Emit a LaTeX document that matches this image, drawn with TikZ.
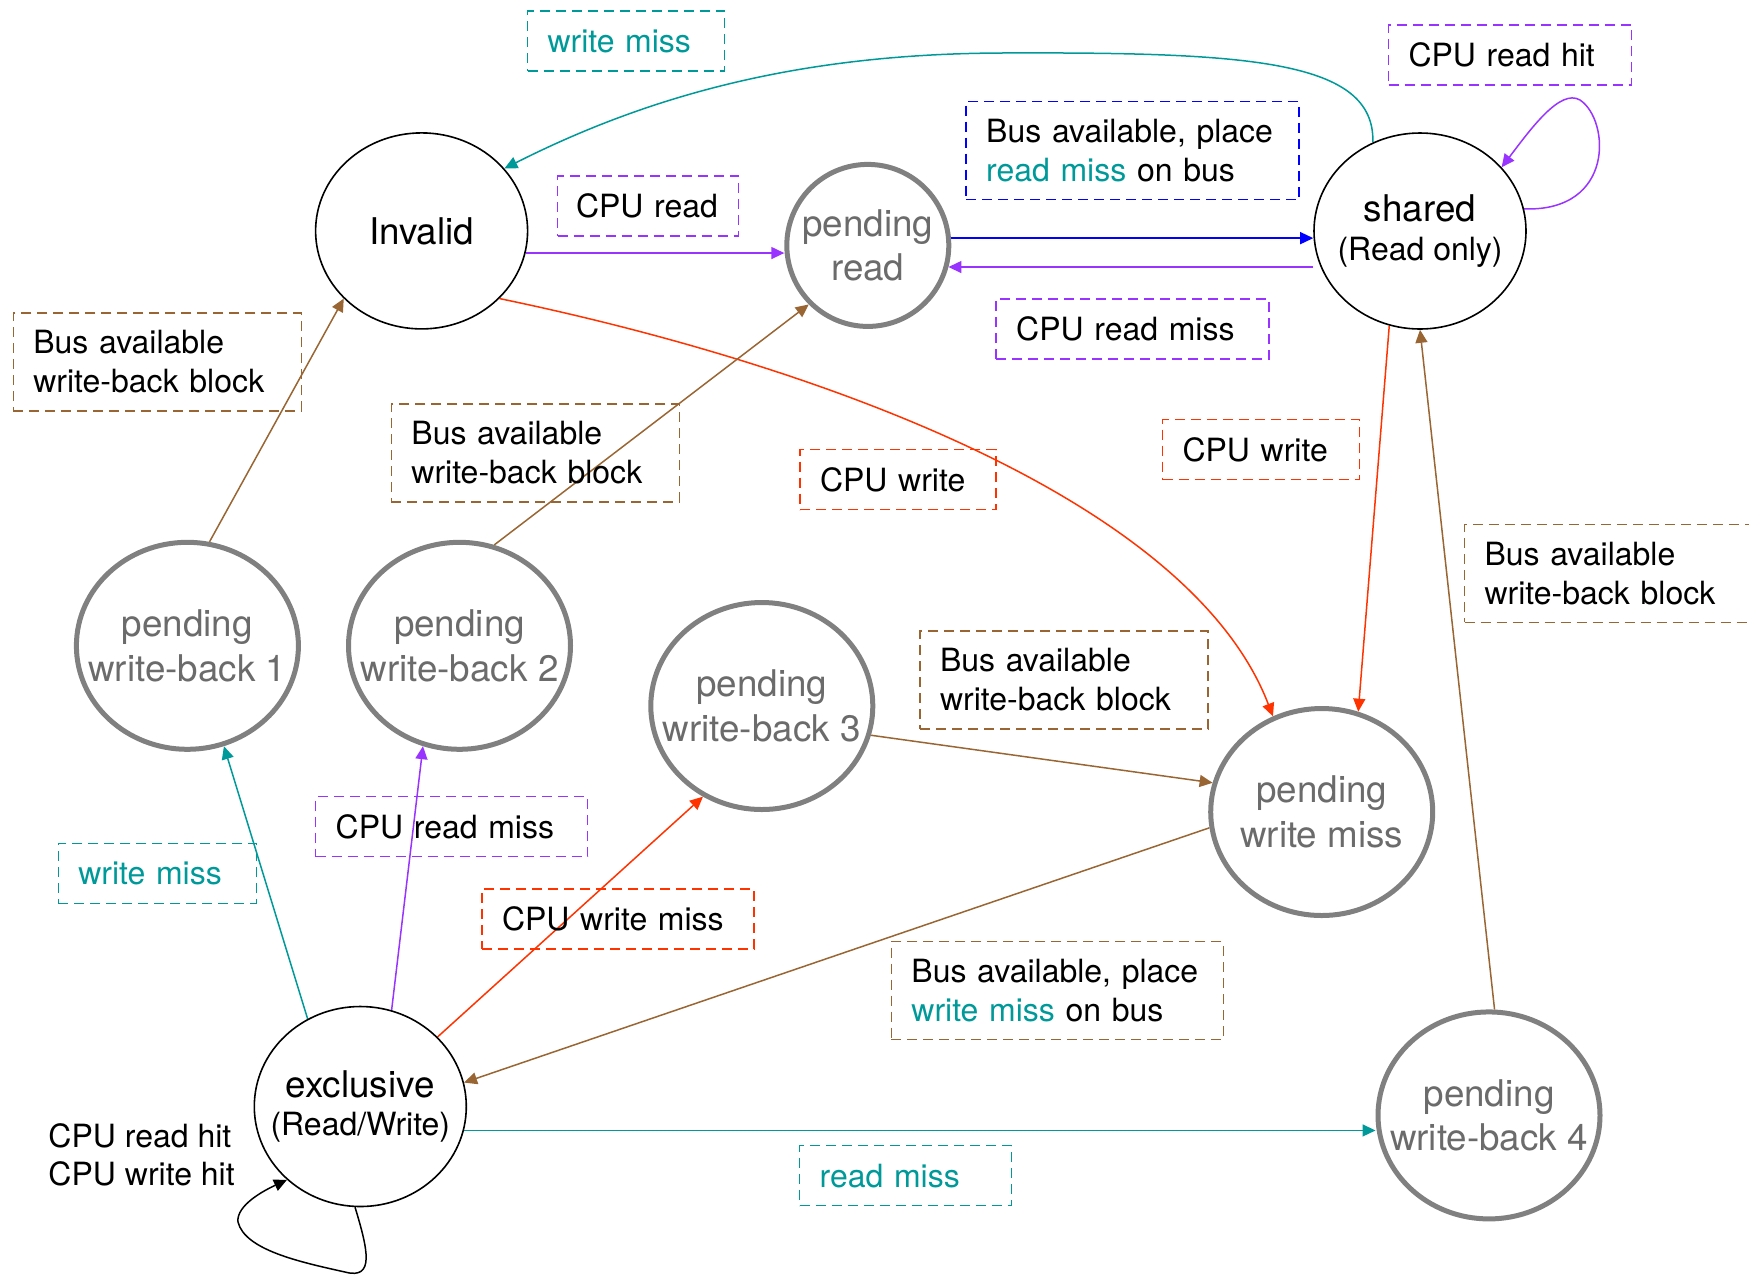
\documentclass[tikz,border=0pt]{standalone}
\usepackage{fontspec}
\setmainfont{TeX Gyre Heros}
\usetikzlibrary{arrows.meta,shapes.geometric,backgrounds}
\definecolor{busteal}{HTML}{009999}
\definecolor{cpuviol}{HTML}{9933FF}
\definecolor{busblue}{HTML}{0000FF}
\definecolor{cpured}{HTML}{FF3300}
\definecolor{wbbrown}{HTML}{996633}
\definecolor{pendgray}{HTML}{808080}
\definecolor{pendtext}{HTML}{6B6B6B}
\tikzset{
  st/.style   ={ellipse, draw=black, line width=.8pt, fill=white, inner sep=-12pt, align=center,
                minimum width=106pt, minimum height=98pt, font=\fontsize{18.4}{22.3}\selectfont},
  stp/.style  ={st, draw=pendgray, line width=2.5pt, text=pendtext, minimum width=111pt, minimum height=103.5pt},
  lb/.style   ={draw, dashed, dash pattern=on 5pt off 3pt, line width=.75pt, align=left, inner xsep=10pt,
                inner ysep=0pt, minimum height=30pt, font=\fontsize{16}{19.5}\selectfont},
  lbt/.style  ={lb, draw=busteal, text=busteal},
  lbv/.style  ={lb, draw=cpuviol},
  lbb/.style  ={lb, draw=busblue},
  lbr/.style  ={lb, draw=cpured},
  lbw/.style  ={lb, draw=wbbrown, minimum height=49pt, text width=124pt},
  ln/.style   ={line width=.75pt, -{Triangle[length=6.5pt,width=6pt]}},
  lnt/.style  ={ln, draw=busteal},
  lnv/.style  ={ln, draw=cpuviol},
  lnb/.style  ={ln, draw=busblue},
  lnr/.style  ={ln, draw=cpured},
  lnw/.style  ={ln, draw=wbbrown},
  lnk/.style  ={ln, draw=black},
}
\newcommand{\hl}[1]{{\color{busteal}#1}}

\begin{document}
\begin{tikzpicture}[x=.5pt,y=-.5pt]
    \useasboundingbox (0,0) rectangle (1749,1276);

    \node[st] (invalid) at (421.6,230.9) {Invalid};
    \node[stp,minimum width=81pt,minimum height=81pt] (pread) at (867.8,245.4) {pending\\read};
    \node[st] (shared) at (1420,231) {shared\\[-3pt]{\fontsize{16}{19}\selectfont(Read only)}};
    \node[stp] (pwb1) at (187.4,645.8) {pending\\write-back 1};
    \node[stp] (pwb2) at (459.5,645.8) {pending\\write-back 2};
    \node[stp] (pwb3) at (761.8,706) {pending\\write-back 3};
    \node[stp] (pwm) at (1321.7,812) {pending\\write miss};
    \node[st,minimum height=100pt] (excl) at (360.3,1106.5) {exclusive\\[-3pt]{\fontsize{16}{19}\selectfont(Read/Write)}};
    \node[stp] (pwb4) at (1489,1115.4) {pending\\write-back 4};

    \node[lbt,text width=78.5pt] (wmtop) at (626,41) {write miss};
    \node[lbv,text width=101.5pt] (rdhit) at (1510,55) {CPU read hit};
    \node[lbb,text width=146.5pt,minimum height=49pt] (busrd) at (1132.7,150.6) {Bus available, place\\\hl{read miss} on bus};
    \node[lbv,text width=72pt,inner xsep=9.25pt] (cpurd) at (648,206) {CPU read};
    \node[lbv,text width=116.5pt] (cpurm) at (1132.7,329) {CPU read miss};
    \node[lbw] (wbone) at (157.3,362) {Bus available\\write-back block};
    \node[lbw] (wbtwo) at (535.4,453) {Bus available\\write-back block};
    \node[lbr,text width=78pt] (cpuwa) at (898,479.6) {CPU write};
    \node[lbr,text width=78.5pt] (cpuwb) at (1261,449.5) {CPU write};
    \node[lbw] (wbfour) at (1608.5,573.3) {Bus available\\write-back block};
    \node[lbw] (wbthree) at (1064,680) {Bus available\\write-back block};
    \node[lbv,text width=116pt] (cpurmx) at (451.7,826.5) {CPU read miss};
    \node[lbt,text width=79pt] (wmlow) at (157.3,873.4) {write miss};
    \node[lbr,text width=116pt] (cpuwm) at (618,919) {CPU write miss};
    \node[lbw,text width=146pt] (buswm) at (1057.4,990.5) {Bus available, place\\\hl{write miss} on bus};
    \node[lbt,text width=86pt] (rdmiss) at (905.7,1175.6) {read miss};
    \node[align=left,inner sep=0pt,font=\fontsize{16}{19}\selectfont] (hits) at (141.6,1154.6) {CPU read hit\\CPU write hit};

    \begin{scope}[on background layer]
    \draw[lnt] (shared.118) .. controls (1375,60) and (1250,52) .. (1000,53)
                           .. controls (800,54) and (650,95) .. (invalid.37);
    \draw[lnv] (invalid.-12) -- (invalid.-12 -| pread.west);
    \draw[lnb] (pread.5) -- (pread.5 -| shared.west);
    \draw[lnv] (pread.-15 -| shared.west) -- (pread.-15);
    \draw[lnv] (shared.12) .. controls (1615,212) and (1610,120) .. (1580,100)
                          .. controls (1560,88) and (1530,130) .. (shared.38);
    \draw[lnr] (invalid.-41) .. controls (820,365) and (1190,500) .. (pwm.117);
    \draw[lnr] (shared.-108) -- (pwm.70);
    \draw[lnw] (pwb4.87) -- (shared.south);
    \draw[lnw] (pwb1.78) -- (invalid.221);
    \draw[lnw] (pwb2.71) -- (pread.225);
    \draw[lnw] (pwb3.-15) -- (pwm.165);
    \draw[lnw] (pwm.188) -- (excl.13);
    \draw[lnt] (excl.-13) -- (excl.-13 -| pwb4.west);
    \draw[lnr] (excl.42) -- (pwb3.237);
    \draw[lnv] (excl.72) -- (pwb2.250);
    \draw[lnt] (excl.121) -- (pwb1.-70);
    \draw[lnk] (excl.-93) .. controls (368,1250) and (375,1280) .. (345,1272)
                         .. controls (300,1262) and (245,1250) .. (238,1222)
                         .. controls (236,1205) and (265,1190) .. (excl.225);
    \end{scope}
  \end{tikzpicture}
\end{document}
